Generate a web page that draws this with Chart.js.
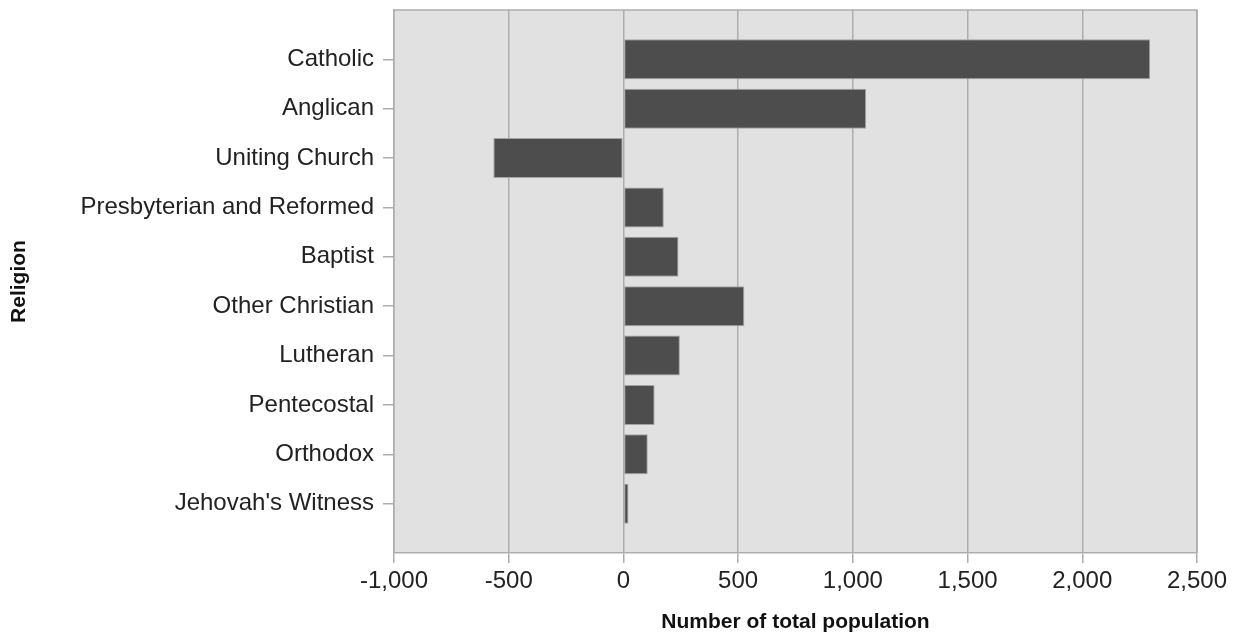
<!DOCTYPE html>
<html>
<head>
<meta charset="utf-8">
<script src="https://cdn.jsdelivr.net/npm/chart.js@4"></script>
<style>
  html, body { margin: 0; padding: 0; background: #fff; }
  #wrap { width: 1240px; height: 633px; }
</style>
</head>
<body>
<div id="wrap"><canvas id="chart"></canvas></div>
<script>
const RELIGIONS = [
  "Catholic",
  "Anglican",
  "Uniting Church",
  "Presbyterian and Reformed",
  "Baptist",
  "Other Christian",
  "Lutheran",
  "Pentecostal",
  "Orthodox",
  "Jehovah's Witness"
];
const CHANGE = [2296, 1058, -567, 176, 240, 527, 246, 136, 106, 22];
const X_MIN = -1000;
const X_MAX = 2500;
const X_STEP = 500;

// blank slots above and below so the bars sit one band in from the edges
const labels = [""].concat(RELIGIONS, [""]);
const values = [null].concat(CHANGE, [null]);

const FONT = "'Liberation Sans', Arial, sans-serif";
const GRID = "#adadad";

const plotBg = {
  id: 'plotBg',
  beforeDraw(chart) {
    const a = chart.chartArea, ctx = chart.ctx;
    ctx.save();
    ctx.fillStyle = "#e1e1e1";
    ctx.fillRect(a.left, a.top, a.right - a.left, a.bottom - a.top);
    ctx.restore();
  },
  beforeDatasetsDraw(chart) {
    const a = chart.chartArea, ctx = chart.ctx;
    ctx.save();
    ctx.strokeStyle = GRID;
    ctx.lineWidth = 1.5;
    ctx.beginPath();
    ctx.moveTo(a.left, a.top);
    ctx.lineTo(a.right, a.top);
    ctx.lineTo(a.right, a.bottom);
    ctx.stroke();
    ctx.restore();
  }
};

new Chart(document.getElementById('chart'), {
  type: 'bar',
  data: {
    labels: labels,
    datasets: [{
      data: values,
      backgroundColor: "#4d4d4d",
      borderColor: "#a3a3a3",
      borderWidth: 1,
      borderSkipped: false,
      barPercentage: 0.81,
      categoryPercentage: 1
    }]
  },
  plugins: [plotBg],
  options: {
    indexAxis: 'y',
    responsive: true,
    maintainAspectRatio: false,
    animation: false,
    locale: 'en-US',
    layout: { padding: { top: 10, right: 43, left: 0, bottom: 0 } },
    plugins: {
      legend: { display: false },
      tooltip: { enabled: false }
    },
    scales: {
      x: {
        type: 'linear',
        min: X_MIN,
        max: X_MAX,
        ticks: {
          stepSize: X_STEP,
          color: "#222",
          font: { family: FONT, size: 24 },
          padding: 4
        },
        grid: {
          color: GRID,
          lineWidth: 1.5,
          tickLength: 10,
          tickColor: GRID
        },
        border: { display: true, color: GRID, width: 1.5 },
        title: {
          display: true,
          text: "Number of total population",
          color: "#111",
          font: { family: FONT, size: 21, weight: 'bold' },
          padding: { top: 0, bottom: -2 }
        },
        afterFit(s) { s.height = 80; }
      },
      y: {
        type: 'category',
        offset: false,
        ticks: {
          color: "#222",
          font: { family: FONT, size: 24 },
          padding: 9,
          autoSkip: false
        },
        grid: {
          offset: false,
          drawOnChartArea: false,
          lineWidth: 1.5,
          tickLength: 11,
          tickColor: (c) => (c.index === 0 || c.index === labels.length - 1) ? 'rgba(0,0,0,0)' : GRID
        },
        border: { display: true, color: GRID, width: 1.5 },
        title: {
          display: true,
          text: "Religion",
          color: "#111",
          font: { family: FONT, size: 21, weight: 'bold' },
          padding: { top: 7, bottom: 0 }
        },
        afterFit(s) {
          s.width = 394;
          s.paddingTop = 0;
          s.paddingBottom = 0;
        }
      }
    }
  }
});
</script>
</body>
</html>
